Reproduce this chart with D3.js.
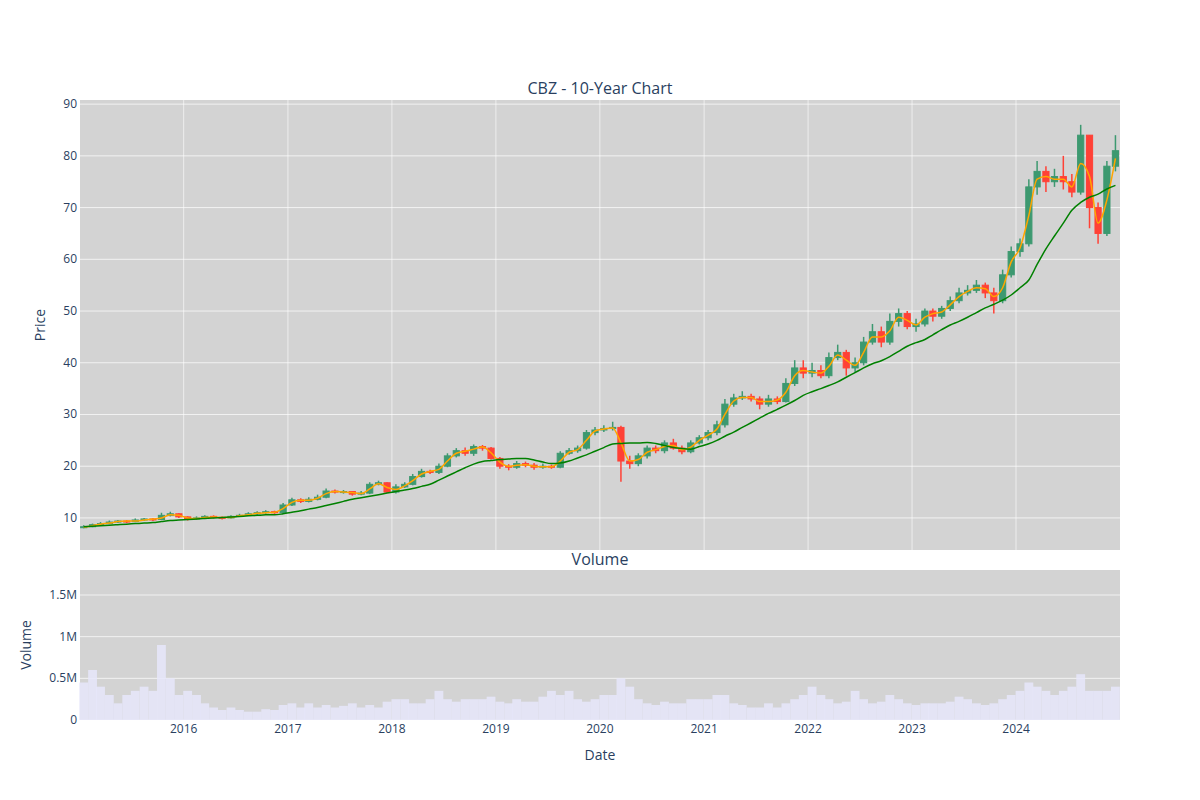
<!DOCTYPE html>
<html><head><meta charset="utf-8">
<script src="https://cdn.jsdelivr.net/npm/d3@7"></script>
<style>body{margin:0;background:#fff;font-family:"Open Sans",sans-serif}</style>
</head><body><svg id="c" width="1200" height="800"></svg>
<script>
// Monthly approximations (Jan 2015 .. Dec 2024)
const months = d3.range(120).map(i => new Date(2015, i, 15));
const closes = [8.3,8.7,8.9,9.2,9.4,9.3,9.6,9.8,9.7,10.5,10.8,10.2,
 9.8,10.0,10.3,10.1,10.0,10.3,10.5,10.8,11.0,11.2,11.0,12.5,
 13.5,13.2,13.6,14.0,15.2,15.0,15.1,14.6,14.8,16.5,16.8,15.0,
 16.0,16.5,18.0,19.0,18.8,20.0,22.0,23.0,22.5,23.8,23.5,21.5,
 20.0,19.8,20.5,20.2,19.8,20.0,19.8,22.5,23.0,23.5,26.5,27.0,
 27.3,27.5,21.0,20.5,22.0,23.5,23.0,24.5,23.5,22.8,24.5,25.5,
 26.5,28.0,32.0,33.2,33.5,33.0,32.0,33.0,32.5,36.0,39.0,38.0,
 38.5,37.5,41.0,42.0,39.0,40.0,44.0,46.0,44.0,48.0,49.5,47.0,
 47.5,50.0,49.0,50.5,52.0,53.5,54.0,55.0,53.5,52.0,57.0,61.5,
 63.0,74.0,77.0,75.0,76.0,75.0,73.0,84.0,70.0,65.0,78.0,81.0];
const opens = [8.2,8.3,8.7,8.9,9.2,9.4,9.3,9.6,9.8,9.7,10.5,10.8,
 10.2,9.8,10.0,10.3,10.1,10.0,10.3,10.5,10.8,11.0,11.2,11.0,
 12.5,13.5,13.2,13.6,14.0,15.2,15.0,15.1,14.6,14.8,16.5,16.8,
 15.0,16.0,16.5,18.0,19.0,18.8,20.0,22.0,23.0,22.5,23.8,23.5,
 21.5,20.0,19.8,20.5,20.2,19.8,20.0,19.8,22.5,23.0,23.5,26.5,
 27.0,27.3,27.5,21.0,20.5,22.0,23.5,23.0,24.5,23.5,22.8,24.5,
 25.5,26.5,28.0,32.0,33.2,33.5,33.0,32.0,33.0,32.5,36.0,39.0,
 38.0,38.5,37.5,41.0,42.0,39.0,40.0,44.0,46.0,44.0,48.0,49.5,
 47.0,47.5,50.0,49.0,50.5,52.0,53.5,54.0,55.0,53.5,52.0,57.0,
 61.5,63.0,74.0,77.0,75.0,76.0,75.0,73.0,84.0,70.0,65.0,78.0];
const highs = [8.6,8.9,9.2,9.5,9.6,9.6,9.9,10.0,10.0,11.0,11.2,10.9,
 10.3,10.3,10.5,10.5,10.3,10.5,10.8,11.1,11.3,11.5,11.4,12.9,
 13.9,13.8,14.0,14.5,15.7,15.5,15.4,15.2,15.2,16.9,17.2,16.9,
 16.5,16.9,18.5,19.5,19.3,20.5,22.5,23.5,23.6,24.2,24.1,23.7,
 21.8,20.4,21.0,20.9,20.6,20.5,20.3,22.9,23.5,24.0,27.0,27.6,
 27.9,28.6,27.8,22.0,22.5,24.0,24.0,25.0,25.3,24.0,25.0,26.0,
 27.0,28.8,33.0,34.0,34.5,34.0,33.5,33.8,33.5,37.0,40.5,40.5,
 40.0,39.5,42.0,43.5,42.5,41.0,45.0,47.5,47.0,49.5,50.5,50.0,
 48.5,50.5,50.5,51.0,52.8,54.5,55.0,56.0,55.5,54.5,58.0,62.5,
 64.0,75.5,79.0,78.0,77.5,80.0,76.5,86.0,84.0,71.0,79.0,84.0];
const lows = [8.0,8.2,8.5,8.8,9.0,9.0,9.2,9.4,9.4,9.6,10.3,10.0,
 9.5,9.6,9.8,9.9,9.7,9.9,10.2,10.4,10.6,10.8,10.8,10.9,
 12.3,12.9,13.0,13.4,13.8,14.7,14.7,14.3,14.4,14.6,16.3,14.8,
 14.7,15.8,16.3,17.8,18.5,18.5,19.8,21.7,22.0,22.0,23.0,21.3,
 19.5,19.2,19.5,19.8,19.3,19.5,19.5,19.6,22.2,22.6,23.2,26.0,
 26.6,26.9,17.0,19.5,20.0,21.5,22.5,22.5,23.2,22.3,22.5,24.2,
 25.0,26.0,27.5,31.5,32.8,32.5,31.0,31.5,32.0,32.3,35.5,37.0,
 37.2,37.0,37.0,40.5,37.5,38.0,39.5,43.5,43.0,43.5,47.0,46.5,
 46.0,47.0,48.0,48.5,50.0,51.5,53.0,53.5,52.5,49.5,51.5,56.5,
 60.5,62.5,72.5,73.0,74.0,73.5,72.0,72.5,66.0,63.0,64.5,77.0];
const maShort = [8.2,8.5,8.8,9.0,9.3,9.4,9.4,9.6,9.8,10.0,10.6,10.5,
 10.0,9.9,10.1,10.2,10.1,10.1,10.4,10.6,10.9,11.0,11.1,11.8,
 13.0,13.4,13.4,13.8,14.7,15.1,15.0,14.9,14.7,15.6,16.6,15.9,
 15.5,16.2,17.2,18.5,19.0,19.4,21.0,22.5,22.9,23.3,23.7,22.6,
 20.8,20.0,20.2,20.3,20.0,19.9,19.9,21.0,22.7,23.2,25.0,26.8,
 27.2,27.4,24.5,21.0,21.3,22.7,23.2,23.8,24.0,23.2,23.7,25.0,
 26.0,27.2,30.0,32.6,33.3,33.3,32.5,32.5,32.8,34.3,37.5,38.5,
 38.2,38.0,39.3,41.5,40.5,39.5,42.0,45.0,45.0,46.2,48.8,48.2,
 47.3,48.8,49.5,49.8,51.2,52.8,53.8,54.5,54.3,52.8,54.5,59.5,
 62.2,68.5,75.5,76.0,75.5,75.5,74.0,78.5,76.0,67.0,71.5,79.5];
const maLong = [8.3,8.4,8.5,8.6,8.7,8.8,8.9,9.0,9.1,9.3,9.5,9.6,
 9.7,9.8,9.9,10.0,10.1,10.2,10.3,10.4,10.5,10.6,10.6,10.8,
 11.1,11.4,11.7,12.0,12.4,12.8,13.2,13.6,13.9,14.2,14.5,14.8,
 15.1,15.4,15.7,16.1,16.5,17.3,18.1,18.9,19.7,20.4,20.9,21.1,
 21.3,21.4,21.5,21.5,21.2,20.8,20.5,20.6,21.0,21.6,22.2,22.9,
 23.6,24.3,24.4,24.5,24.5,24.6,24.4,24.0,23.6,23.4,23.3,23.8,
 24.3,25.0,25.8,26.6,27.5,28.4,29.3,30.2,31.0,31.8,32.7,33.7,
 34.4,35.0,35.6,36.3,37.2,38.1,39.0,39.8,40.4,41.2,42.2,43.2,
 43.9,44.5,45.4,46.4,47.3,48.0,48.8,49.7,50.6,51.3,52.1,53.1,
 54.5,56.0,59.0,62.0,64.5,67.0,69.5,71.0,72.0,72.6,73.6,74.3];
// typical daily volume per month (millions)
const volumeM = [0.45,0.6,0.4,0.3,0.2,0.3,0.35,0.4,0.35,0.9,0.5,0.3,
 0.35,0.3,0.2,0.15,0.12,0.15,0.12,0.1,0.1,0.13,0.12,0.18,
 0.2,0.15,0.2,0.15,0.18,0.15,0.17,0.2,0.15,0.18,0.15,0.22,
 0.25,0.25,0.2,0.2,0.25,0.35,0.25,0.22,0.25,0.25,0.25,0.28,
 0.22,0.2,0.25,0.22,0.22,0.28,0.35,0.3,0.35,0.25,0.22,0.25,
 0.3,0.3,0.5,0.4,0.25,0.2,0.18,0.22,0.2,0.2,0.25,0.25,
 0.25,0.3,0.3,0.2,0.18,0.15,0.15,0.2,0.15,0.2,0.25,0.3,
 0.4,0.3,0.25,0.2,0.22,0.35,0.25,0.2,0.22,0.3,0.25,0.2,
 0.18,0.2,0.2,0.2,0.22,0.28,0.25,0.2,0.18,0.2,0.25,0.3,
 0.35,0.45,0.4,0.35,0.3,0.35,0.4,0.55,0.35,0.35,0.35,0.4];
const priceTicks = [10,20,30,40,50,60,70,80,90];
const volTicks = [0, 0.5, 1, 1.5];
const volTickLabels = ["0","0.5M","1M","1.5M"];

const svg = d3.select("#c");
const L=80,R=1120,PT=100,PB=550,VT=570,VB=720;
const x = d3.scaleTime().domain([new Date(2015,0,2), new Date(2024,11,31)]).range([L,R]);
const y = d3.scaleLinear().domain([3.8,90.8]).range([PB,PT]);
const yv = d3.scaleLinear().domain([0,1.8]).range([VB,VT]);
const txt="#2a3f5f";

svg.append("rect").attr("x",L).attr("y",PT).attr("width",R-L).attr("height",PB-PT).attr("fill","#d3d3d3");
svg.append("rect").attr("x",L).attr("y",VT).attr("width",R-L).attr("height",VB-VT).attr("fill","#d3d3d3");
const years = d3.range(2016,2025).map(yr=>new Date(yr,0,1));
years.forEach(d=>{
  svg.append("line").attr("x1",x(d)).attr("x2",x(d)).attr("y1",PT).attr("y2",PB).attr("stroke","#fff").attr("stroke-opacity",0.6);
  svg.append("text").attr("x",x(d)).attr("y",VB+13).attr("text-anchor","middle").attr("font-size",12).attr("fill",txt).text(d.getFullYear());
});
priceTicks.forEach(t=>{
  svg.append("line").attr("x1",L).attr("x2",R).attr("y1",y(t)).attr("y2",y(t)).attr("stroke","#fff").attr("stroke-opacity",0.7);
  svg.append("text").attr("x",L-3).attr("y",y(t)+4).attr("text-anchor","end").attr("font-size",12).attr("fill",txt).text(t);
});
volTicks.forEach((t,i)=>{
  svg.append("line").attr("x1",L).attr("x2",R).attr("y1",yv(t)).attr("y2",yv(t)).attr("stroke","#fff").attr("stroke-opacity",0.7);
  svg.append("text").attr("x",L-3).attr("y",yv(t)+4).attr("text-anchor","end").attr("font-size",12).attr("fill",txt).text(volTickLabels[i]);
});

// volume bars
const bw = (x(months[1])-x(months[0]));
svg.append("g").selectAll("rect").data(volumeM).join("rect")
  .attr("x",(d,i)=>x(months[i])-bw/2).attr("width",bw)
  .attr("y",d=>yv(d)).attr("height",d=>VB-yv(d)).attr("fill","#e6e6fa").attr("opacity",0.85);

// candles
const cw = (x(months[1])-x(months[0]))*0.7;
const g = svg.append("g");
closes.forEach((c,i)=>{
  const o=opens[i], col = c>=o ? "#3D9970" : "#FF4136", xc=x(months[i]);
  g.append("line").attr("x1",xc).attr("x2",xc).attr("y1",y(highs[i])).attr("y2",y(lows[i])).attr("stroke",col).attr("stroke-width",1.5);
  g.append("rect").attr("x",xc-cw/2).attr("width",cw).attr("y",y(Math.max(o,c))).attr("height",Math.max(1,Math.abs(y(o)-y(c)))).attr("fill",col).attr("stroke",col);
});
const line = arr => d3.line().x((d,i)=>x(months[i])).y(d=>y(d)).curve(d3.curveMonotoneX)(arr);
svg.append("path").attr("d",line(maShort)).attr("fill","none").attr("stroke","orange").attr("stroke-width",1.5);
svg.append("path").attr("d",line(maLong)).attr("fill","none").attr("stroke","green").attr("stroke-width",1.5);

svg.append("text").attr("x",600).attr("y",94).attr("text-anchor","middle").attr("font-size",16).attr("fill",txt).text("CBZ - 10-Year Chart");
svg.append("text").attr("x",600).attr("y",565).attr("text-anchor","middle").attr("font-size",16).attr("fill",txt).text("Volume");
svg.append("text").attr("transform","translate(45,325) rotate(-90)").attr("text-anchor","middle").attr("font-size",14).attr("fill",txt).text("Price");
svg.append("text").attr("transform","translate(31,645) rotate(-90)").attr("text-anchor","middle").attr("font-size",14).attr("fill",txt).text("Volume");
svg.append("text").attr("x",600).attr("y",760).attr("text-anchor","middle").attr("font-size",14).attr("fill",txt).text("Date");
</script></body></html>
